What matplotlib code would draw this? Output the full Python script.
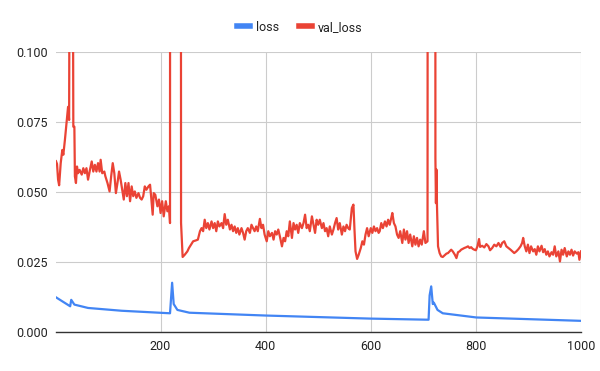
import matplotlib
matplotlib.use('Agg')
import matplotlib.pyplot as plt
from matplotlib.ticker import FormatStrFormatter

plt.rcParams['font.family'] = ['Roboto', 'DejaVu Sans']

# loss (smooth curve, read at its turning points)
loss_epochs = [1, 28, 30, 36, 62, 126, 218, 222, 225, 232, 255, 399, 599,
               710, 712, 715, 718, 720, 727, 737, 801, 1000]
loss_values = [0.0124, 0.0092, 0.0115, 0.0098, 0.0086, 0.0076, 0.0067, 0.0176,
               0.0100, 0.0079, 0.0069, 0.0059, 0.0048, 0.0044, 0.0131, 0.0163,
               0.0100, 0.0105, 0.0079, 0.0067, 0.0052, 0.0040]

# val_loss (values above 0.100 run off the top of the chart)
val_epochs = [
    1, 3, 5, 7, 10, 13, 15, 18, 21, 24, 26, 29, 30, 31, 34, 36, 37, 39, 41, 43,
    46, 50, 53, 56, 59, 62, 65, 69, 72, 75, 78, 81, 84, 86, 89, 93, 95, 99, 103,
    106, 109, 112, 115, 118, 121, 124, 127, 130, 133, 136, 139, 142, 145, 148,
    151, 154, 158, 161, 164, 167, 170, 173, 177, 180, 182, 185, 187,
    190, 194, 197, 200, 203, 206, 210, 213, 216, 218, 219, 225, 232, 237,
    239, 242, 246, 251, 254, 258, 262, 267, 271, 275, 278, 281, 284, 287, 290,
    293, 297, 300, 303, 306, 309, 312, 316, 319, 322, 325, 328, 332, 335, 338,
    341, 344, 347, 350, 354, 357, 360, 363, 366, 370, 373, 376, 379, 382, 385,
    389, 392, 395, 398, 402, 405, 408, 412, 415, 418, 421, 424, 427, 431, 434,
    437, 440, 443, 446, 450, 453, 456, 459, 462, 465, 469, 472, 475, 478, 481,
    484, 488, 491, 494, 497, 500, 503, 507, 510, 513, 516, 519, 522, 526, 529,
    532, 535, 538, 541, 545, 548, 551, 554, 557, 560, 564, 567, 569, 571, 574,
    577, 581, 584, 587, 590, 593, 596, 600, 603, 606, 609, 612, 615, 617, 620,
    623, 627, 630, 633, 636, 639, 641, 644, 647, 650, 653, 656, 660, 663, 666,
    669, 672, 675, 679, 682, 685, 688, 691, 694, 697, 701, 704, 708, 710, 715,
    722, 723, 724, 725, 726, 728, 731, 734, 737, 740, 744, 747, 750, 753, 756,
    760, 763, 766, 769, 772, 775, 778, 782, 785, 788, 791, 794, 797, 800, 803,
    806, 808, 812, 816, 820, 824, 827, 831, 835, 839, 843, 847, 850, 854, 858,
    862, 866, 870, 873, 877, 881, 885, 888, 890, 893, 896, 899, 902, 905, 909,
    912, 915, 918, 921, 925, 928, 931, 934, 937, 940, 944, 947, 950, 953, 957,
    960, 963, 966, 969, 973, 976, 979, 982, 985, 988, 992, 995, 997, 1000]
val_values = [
    0.0610, 0.0600, 0.0544, 0.0524, 0.0603, 0.0650, 0.0633, 0.0686, 0.0745,
    0.0804, 0.0757, 0.3000, 0.3000, 0.3000, 0.0733, 0.0733, 0.0556, 0.0532,
    0.0591, 0.0567, 0.0579, 0.0562, 0.0585, 0.0567, 0.0585, 0.0544, 0.0573,
    0.0609, 0.0573, 0.0597, 0.0573, 0.0603, 0.0573, 0.0615, 0.0567, 0.0573,
    0.0556, 0.0532, 0.0502, 0.0556, 0.0603, 0.0567, 0.0496, 0.0532, 0.0573,
    0.0544, 0.0508, 0.0473, 0.0532, 0.0485, 0.0532, 0.0467, 0.0520, 0.0485,
    0.0502, 0.0479, 0.0496, 0.0479, 0.0473, 0.0485, 0.0520, 0.0508, 0.0520,
    0.0526, 0.0485, 0.0419, 0.0496,
    0.0490, 0.0449, 0.0473, 0.0425, 0.0467, 0.0413, 0.0467, 0.0431, 0.0449,
    0.0389, 0.9000, 0.9000, 0.9000, 0.9000,
    0.0389, 0.0268, 0.0276, 0.0288, 0.0300, 0.0312, 0.0324, 0.0327, 0.0330,
    0.0360, 0.0371, 0.0360, 0.0401, 0.0371, 0.0389, 0.0366, 0.0395, 0.0371,
    0.0389, 0.0360, 0.0395, 0.0377, 0.0389, 0.0371, 0.0421, 0.0383, 0.0401,
    0.0366, 0.0383, 0.0360, 0.0377, 0.0354, 0.0371, 0.0348, 0.0371, 0.0354,
    0.0330, 0.0360, 0.0371, 0.0354, 0.0383, 0.0371, 0.0360, 0.0377, 0.0360,
    0.0404, 0.0371, 0.0383, 0.0348, 0.0324, 0.0360, 0.0342, 0.0354, 0.0330,
    0.0360, 0.0348, 0.0366, 0.0342, 0.0306, 0.0336, 0.0324, 0.0360, 0.0342,
    0.0395, 0.0336, 0.0389, 0.0366, 0.0383, 0.0354, 0.0389, 0.0371, 0.0389,
    0.0419, 0.0371, 0.0383, 0.0360, 0.0413, 0.0383, 0.0354, 0.0401, 0.0383,
    0.0401, 0.0371, 0.0389, 0.0360, 0.0371, 0.0342, 0.0377, 0.0348, 0.0366,
    0.0389, 0.0407, 0.0366, 0.0389, 0.0348, 0.0377, 0.0360, 0.0383, 0.0371,
    0.0366, 0.0443, 0.0455, 0.0366, 0.0288, 0.0261, 0.0276, 0.0300, 0.0324,
    0.0312, 0.0348, 0.0371, 0.0342, 0.0371, 0.0354, 0.0377, 0.0360, 0.0371,
    0.0354, 0.0360, 0.0389, 0.0371, 0.0395, 0.0377, 0.0401, 0.0383, 0.0407,
    0.0425, 0.0389, 0.0377, 0.0348, 0.0336, 0.0360, 0.0318, 0.0366, 0.0330,
    0.0360, 0.0318, 0.0348, 0.0306, 0.0342, 0.0312, 0.0336, 0.0306, 0.0330,
    0.0312, 0.0360, 0.0318, 0.0324, 0.9000, 0.9000, 0.9000, 0.0620, 0.0460,
    0.0580, 0.0450, 0.0306, 0.0282, 0.0270, 0.0268, 0.0273, 0.0280, 0.0282,
    0.0288, 0.0294, 0.0288, 0.0276, 0.0264, 0.0285, 0.0288, 0.0294, 0.0297,
    0.0300, 0.0303, 0.0306, 0.0300, 0.0303, 0.0297, 0.0294, 0.0292, 0.0306,
    0.0332, 0.0304, 0.0308, 0.0302, 0.0314, 0.0306, 0.0292, 0.0300, 0.0312,
    0.0306, 0.0318, 0.0304, 0.0318, 0.0324, 0.0306, 0.0300, 0.0294, 0.0287,
    0.0282, 0.0288, 0.0296, 0.0306, 0.0318, 0.0336, 0.0306, 0.0288, 0.0312,
    0.0282, 0.0306, 0.0288, 0.0296, 0.0276, 0.0306, 0.0288, 0.0308, 0.0285,
    0.0296, 0.0276, 0.0288, 0.0270, 0.0285, 0.0276, 0.0306, 0.0270, 0.0288,
    0.0252, 0.0294, 0.0276, 0.0300, 0.0270, 0.0288, 0.0276, 0.0294, 0.0273,
    0.0288, 0.0280, 0.0285, 0.0258, 0.0288]

x_ticks = [200, 400, 600, 800, 1000]
y_ticks = [0.0, 0.025, 0.05, 0.075, 0.1]

fig = plt.figure(figsize=(6, 3.71), dpi=100)
ax = fig.add_axes([0.0933, 0.105, 0.875, 0.755])

ax.plot(loss_epochs, loss_values, color='#4285F4', lw=1.6, label='loss', zorder=3)
ax.plot(val_epochs, val_values, color='#EA4335', lw=1.6, label='val_loss', zorder=3)

ax.set_xlim(1, 1000)
ax.set_ylim(0, 0.1)
ax.set_xticks(x_ticks)
ax.set_yticks(y_ticks)
ax.yaxis.set_major_formatter(FormatStrFormatter('%.3f'))
ax.grid(True, color='#cccccc', lw=0.8)
ax.set_axisbelow(True)
for s in ['top', 'right', 'left']:
    ax.spines[s].set_visible(False)
ax.spines['bottom'].set_color('#333333')
ax.spines['bottom'].set_linewidth(1.0)
ax.spines['bottom'].set_zorder(4)
ax.tick_params(length=0, labelsize=9, colors='#222222', pad=6)

fig.legend(loc='center', bbox_to_anchor=(0.5, 0.927), ncol=2, frameon=False,
           fontsize=9, handlelength=1.0, handletextpad=0.5, columnspacing=1.6,
           labelcolor='#222222')
for h in fig.legends[0].legend_handles:
    h.set_linewidth(4)

fig.savefig('out.png', dpi=100)
